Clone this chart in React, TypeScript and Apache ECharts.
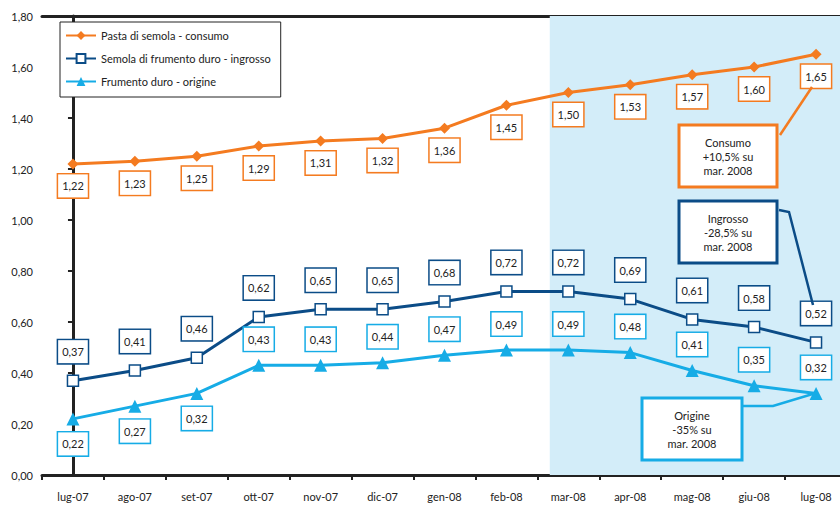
import React, { useEffect, useRef } from "react";
import * as echarts from "echarts";

const categories = ["lug-07", "ago-07", "set-07", "ott-07", "nov-07", "dic-07", "gen-08", "feb-08", "mar-08", "apr-08", "mag-08", "giu-08", "lug-08"];
const pastaConsumo = [1.22, 1.23, 1.25, 1.29, 1.31, 1.32, 1.36, 1.45, 1.50, 1.53, 1.57, 1.60, 1.65];
const semolaIngrosso = [0.37, 0.41, 0.46, 0.62, 0.65, 0.65, 0.68, 0.72, 0.72, 0.69, 0.61, 0.58, 0.52];
const frumentoOrigine = [0.22, 0.27, 0.32, 0.43, 0.43, 0.44, 0.47, 0.49, 0.49, 0.48, 0.41, 0.35, 0.32];
const seriesNames = ["Pasta di semola - consumo", "Semola di frumento duro - ingrosso", "Frumento duro - origine"];
const yTicks = { min: 0, max: 1.8, interval: 0.2 };
const shadedFrom = 7.7; // band position where the shaded period begins
const notes = ["Consumo\n+10,5% su\nmar. 2008", "Ingrosso\n-28,5% su\nmar. 2008", "Origine\n-35% su\nmar. 2008"];

const ORANGE = "#f47b20";
const DARK = "#0b4c87";
const LIGHT = "#16ace6";
const FONT = "Lato, 'DejaVu Sans', sans-serif";

const fmt = (v: number) => v.toFixed(2).replace(".", ",");

function labelStyle(color: string, offset: number[]) {
  return {
    show: true,
    position: "inside",
    offset,
    formatter: (p: any) => fmt(p.value),
    backgroundColor: "#fff",
    borderColor: color,
    borderWidth: 1.5,
    padding: [6, 4, 6, 4],
    color: "#222",
    fontSize: 11,
    fontFamily: FONT,
  };
}

export default function App() {
  const ref = useRef<HTMLDivElement>(null);
  useEffect(() => {
    if (!ref.current) return;
    const chart = echarts.init(ref.current, null, { renderer: "svg" });
    const noteBox = (x: number, y: number, w: number, h: number, color: string, text: string) => ({
      type: "group",
      children: [
        { type: "rect", shape: { x, y, width: w, height: h }, style: { fill: "#fff", stroke: color, lineWidth: 3 }, z: 10 },
        {
          type: "text",
          x: x + w / 2,
          y: y + h / 2,
          style: { text, fill: "#222", font: `11px ${FONT}`, align: "center", verticalAlign: "middle", lineHeight: 14 },
          z: 11,
        },
      ],
    });
    chart.setOption({
      animation: false,
      backgroundColor: "#fff",
      grid: { left: 42, width: 805, top: 16, bottom: 30, containLabel: false, outerBoundsMode: "none" },
      legend: {
        data: seriesNames,
        orient: "vertical",
        left: 60,
        top: 22,
        padding: [8, 10, 10, 5],
        itemGap: 12,
        itemWidth: 30,
        itemHeight: 11,
        backgroundColor: "#fff",
        borderColor: "#222",
        borderWidth: 1,
        textStyle: { fontSize: 11, color: "#222", fontFamily: FONT },
      },
      xAxis: [
        {
          type: "category",
          data: categories,
          boundaryGap: true,
          axisLine: { lineStyle: { color: "#222", width: 3 } },
          axisTick: { show: true, length: 5, lineStyle: { color: "#222", width: 2 } },
          axisLabel: { color: "#222", fontSize: 11, fontFamily: FONT, margin: 16 },
          splitLine: { show: false },
        },
        {
          type: "value",
          min: -0.5,
          max: 12.5,
          position: "top",
          axisLine: { show: true, onZero: false, lineStyle: { color: "#222", width: 3 } },
          axisTick: { show: false },
          axisLabel: { show: false },
          splitLine: { show: false },
        },
      ],
      yAxis: {
        type: "value",
        min: yTicks.min,
        max: yTicks.max,
        interval: yTicks.interval,
        axisLine: { show: true, lineStyle: { color: "#222", width: 3 } },
        axisTick: { show: true, length: 5, lineStyle: { color: "#222", width: 2 } },
        axisLabel: { color: "#222", fontSize: 11, fontFamily: FONT, margin: 9, formatter: (v: number) => fmt(v) },
        splitLine: { show: false },
      },
      series: [
        {
          type: "line",
          xAxisIndex: 1,
          data: [],
          silent: true,
          z: 0,
          markArea: {
            silent: true,
            itemStyle: { color: "#d3edf9" },
            data: [[{ xAxis: shadedFrom }, { xAxis: 12.5 }]],
          },
        },
        {
          name: seriesNames[0],
          type: "line",
          data: pastaConsumo,
          color: ORANGE,
          symbol: "diamond",
          symbolSize: 11,
          lineStyle: { width: 3, color: ORANGE },
          itemStyle: { color: ORANGE },
          label: labelStyle(ORANGE, [0, 22]),
          z: 3,
        },
        {
          name: seriesNames[1],
          type: "line",
          data: semolaIngrosso,
          color: DARK,
          symbol: "rect",
          symbolSize: 11,
          lineStyle: { width: 3, color: DARK },
          itemStyle: { color: "#fff", borderColor: DARK, borderWidth: 1.5 },
          label: labelStyle(DARK, [0, -29]),
          z: 3,
        },
        {
          name: seriesNames[2],
          type: "line",
          data: frumentoOrigine.map((v, i) => ({ value: v, label: { offset: i < 3 ? [0, 25] : [0, -26] } })),
          color: LIGHT,
          symbol: "triangle",
          symbolSize: 13,
          lineStyle: { width: 3, color: LIGHT },
          itemStyle: { color: LIGHT },
          label: labelStyle(LIGHT, [0, -26]),
          z: 3,
        },
      ],
      graphic: [
        { type: "line", shape: { x1: 780, y1: 135, x2: 812, y2: 87 }, style: { stroke: ORANGE, lineWidth: 2.5 }, z: 9 },
        { type: "polyline", shape: { points: [[779, 210], [789, 212], [813, 305]] }, style: { stroke: DARK, lineWidth: 2.5, fill: null }, z: 9 },
        { type: "polyline", shape: { points: [[742, 406], [773, 406], [816, 393]] }, style: { stroke: LIGHT, lineWidth: 2.5, fill: null }, z: 9 },
        noteBox(679, 125, 98, 62, ORANGE, notes[0]),
        noteBox(679, 201, 98, 62, DARK, notes[1]),
        noteBox(642, 398, 100, 62, LIGHT, notes[2]),
      ],
    });
    return () => chart.dispose();
  }, []);
  return <div ref={ref} style={{ position: "absolute", left: 0, top: 0, width: 840, height: 505 }} />;
}
